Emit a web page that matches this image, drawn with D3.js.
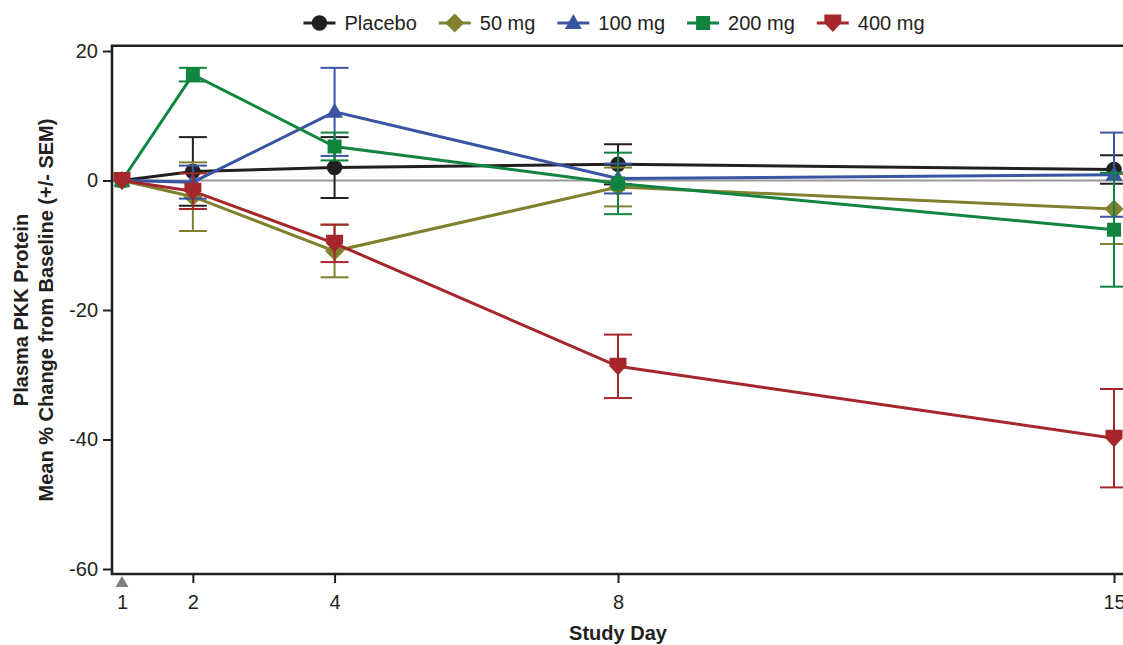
<!DOCTYPE html>
<html><head><meta charset="utf-8">
<script src="https://cdn.jsdelivr.net/npm/d3@7"></script>
<style>body{margin:0;background:#fff;}svg{display:block;font-family:"Liberation Sans",Arial,Helvetica,sans-serif;}</style>
</head><body>
<svg id="chart" width="1123" height="645"></svg>
<script>
const days = [1, 2, 4, 8, 15];
const seriesNames = ["Placebo", "50 mg", "100 mg", "200 mg", "400 mg"];
const placeboMean = [0, 1.4, 2.0, 2.5, 1.7];
const placeboSem  = [0, 5.3, 4.7, 3.1, 2.2];
const mg50Mean  = [0, -2.5, -10.9, -1.0, -4.4];
const mg50Sem   = [0, 5.3, 4.05, 3.0, 5.4];
const mg100Mean = [0, -0.25, 10.6, 0.3, 0.9];
const mg100Sem  = [0, 2.55, 6.8, 2.3, 6.5];
const mg200Mean = [0, 16.35, 5.25, -0.45, -7.6];
const mg200Sem  = [0, 1.05, 2.15, 4.75, 8.8];
const mg400Mean = [0, -1.65, -9.7, -28.7, -39.8];
const mg400Sem  = [0, 2.75, 2.9, 4.9, 7.6];
const yTicks = [20, 0, -20, -40, -60];
const xTicks = [1, 2, 4, 8, 15];

const colors = ["#231f20", "#80802f", "#3a54a4", "#118440", "#a6272b"];
const shapes = ["circle", "diamond", "triangle", "square", "arrow"];
const means = [placeboMean, mg50Mean, mg100Mean, mg200Mean, mg400Mean];
const sems = [placeboSem, mg50Sem, mg100Sem, mg200Sem, mg400Sem];

const svg = d3.select("#chart");
const L = 112, R = 1127, T = 45.7, B = 574;
const x = d3.scaleLinear().domain([1, 15]).range([122, 1114]);
const y = d3.scaleLinear().domain([-60, 20]).range([569, 51]);

function markerPath(shape) {
  switch (shape) {
    case "circle": return d3.symbol(d3.symbolCircle, 190)();
    case "square": return "M-7,-7H7V7H-7Z";
    case "diamond": return "M0,-9.5L9.5,0L0,9.5L-9.5,0Z";
    case "triangle": return "M0,-9L8.5,6H-8.5Z";
    case "arrow": return "M-8.5,-8.5H8.5V0L0,9L-8.5,0Z";
  }
}

// zero reference line
svg.append("line").attr("x1", L).attr("x2", R).attr("y1", y(0)).attr("y2", y(0))
  .attr("stroke", "#9a9a9a").attr("stroke-width", 2);

// series
const line = d3.line().x((d) => x(d[0])).y((d) => y(d[1]));
seriesNames.forEach((name, i) => {
  const g = svg.append("g");
  const pts = days.map((d, j) => [d, means[i][j], sems[i][j]]);
  pts.forEach((p) => {
    if (p[2] <= 0) return;
    const cx = x(p[0]);
    const y1 = y(p[1] + p[2]), y2 = y(p[1] - p[2]);
    g.append("line").attr("x1", cx).attr("x2", cx).attr("y1", y1).attr("y2", y2)
      .attr("stroke", colors[i]).attr("stroke-width", 2);
    [y1, y2].forEach((yy) => g.append("line").attr("x1", cx - 14).attr("x2", cx + 14)
      .attr("y1", yy).attr("y2", yy).attr("stroke", colors[i]).attr("stroke-width", 2));
  });
  g.append("path").attr("d", line(pts)).attr("fill", "none")
    .attr("stroke", colors[i]).attr("stroke-width", 3);
  pts.forEach((p) => {
    g.append("path").attr("d", markerPath(shapes[i]))
      .attr("transform", `translate(${x(p[0])},${y(p[1])})`).attr("fill", colors[i]);
  });
});

// frame
svg.append("path").attr("d", `M${R},${T}H${L}V${B}H${R}`).attr("fill", "none")
  .attr("stroke", "#231f20").attr("stroke-width", 2.6);

// y axis ticks
const yAxis = d3.axisLeft(y).tickValues(yTicks).tickFormat((d) => String(d)).tickSize(9).tickPadding(5);
const ya = svg.append("g").attr("transform", `translate(${L},0)`).call(yAxis);
ya.select(".domain").remove();
ya.selectAll(".tick line").attr("stroke", "#231f20").attr("stroke-width", 2);
ya.selectAll(".tick text").attr("font-size", 20).attr("fill", "#231f20")
  .attr("font-family", "Liberation Sans, Arial, sans-serif");

// x axis ticks
const xAxis = d3.axisBottom(x).tickValues(xTicks).tickFormat((d) => String(d)).tickSize(9).tickPadding(12);
const xa = svg.append("g").attr("transform", `translate(0,${B})`).call(xAxis);
xa.select(".domain").remove();
xa.selectAll(".tick line").attr("stroke", (d) => d === 1 ? "none" : "#231f20").attr("stroke-width", 2);
xa.selectAll(".tick text").attr("font-size", 20).attr("fill", "#231f20")
  .attr("font-family", "Liberation Sans, Arial, sans-serif");

// dosing triangle at day 1
svg.append("path").attr("d", `M${x(1)},${B + 2}L${x(1) + 6.5},${B + 13}H${x(1) - 6.5}Z`).attr("fill", "#808080");

// axis titles
svg.append("text").attr("x", 618).attr("y", 640).attr("text-anchor", "middle")
  .attr("font-size", 20).attr("font-weight", "bold").attr("fill", "#231f20").text("Study Day");
const yt = svg.append("text").attr("transform", "translate(0,310) rotate(-90)")
  .attr("text-anchor", "middle").attr("font-size", 20).attr("font-weight", "bold").attr("fill", "#231f20");
yt.append("tspan").attr("x", 0).attr("y", 28).text("Plasma PKK Protein");
yt.append("tspan").attr("x", 0).attr("y", 53).text("Mean % Change from Baseline (+/- SEM)");

// legend
const lg = svg.append("g");
let cx = 0;
seriesNames.forEach((name, i) => {
  const it = lg.append("g").attr("transform", `translate(${cx},0)`);
  it.append("line").attr("x1", 0).attr("x2", 32).attr("y1", 23).attr("y2", 23)
    .attr("stroke", colors[i]).attr("stroke-width", 3);
  it.append("path").attr("d", markerPath(shapes[i])).attr("transform", "translate(16,23)").attr("fill", colors[i]);
  const t = it.append("text").attr("x", 41).attr("y", 23).attr("dy", "0.36em")
    .attr("font-size", 20).attr("fill", "#231f20").text(name);
  cx += 41 + t.node().getComputedTextLength() + 22;
});
const totalW = cx - 22;
lg.attr("transform", `translate(${614 - totalW / 2},0)`);
</script>
</body></html>
